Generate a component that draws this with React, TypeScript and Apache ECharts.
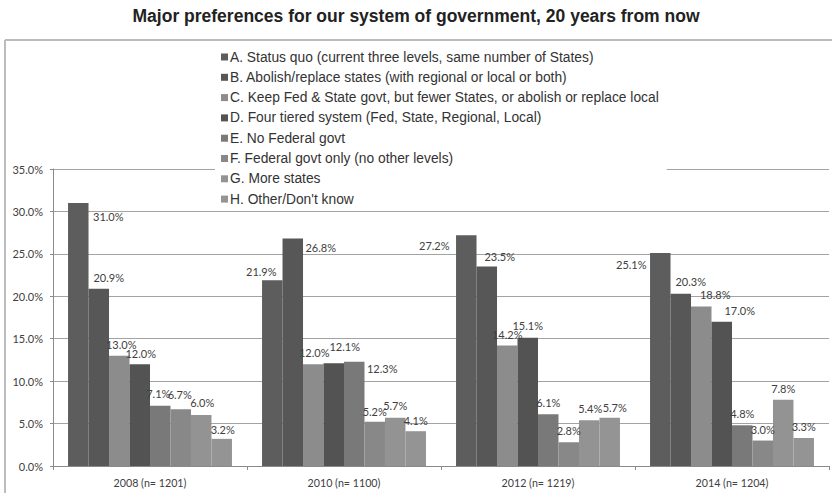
import React, { useEffect, useRef } from "react";
import * as echarts from "echarts";

const title = "Major preferences for our system of government, 20 years from now";
const categories = ["2008 (n= 1201)", "2010 (n= 1100)", "2012 (n= 1219)", "2014 (n= 1204)"];
const seriesNames = [
  "A. Status quo (current three levels, same number of States)",
  "B. Abolish/replace states (with regional or local or both)",
  "C. Keep Fed & State govt, but fewer States, or abolish or replace local",
  "D. Four tiered system (Fed, State, Regional, Local)",
  "E. No Federal govt",
  "F. Federal govt only (no other levels)",
  "G. More states",
  "H. Other/Don't know",
];
const valuesA = [31.0, 21.9, 27.2, 25.1];
const valuesB = [20.9, 26.8, 23.5, 20.3];
const valuesC = [13.0, 12.0, 14.2, 18.8];
const valuesD = [12.0, 12.1, 15.1, 17.0];
const valuesE = [7.1, 12.3, 6.1, 4.8];
const valuesF = [6.7, 5.2, 2.8, 3.0];
const valuesG = [6.0, 5.7, 5.4, 7.8];
const valuesH = [3.2, 4.1, 5.7, 3.3];
const allValues = [valuesA, valuesB, valuesC, valuesD, valuesE, valuesF, valuesG, valuesH];
const yTicks = [0, 5, 10, 15, 20, 25, 30, 35];

// label nudges (style only), per series per category
const labelNudges: number[][][] = [
  [[30, 25], [-11, 3], [-32, 22], [-29, 23]],
  [[10, 0], [28, 20], [13, 1], [10, -1]],
  [[2, 0], [1, 0], [0, 0], [14, 0]],
  [[1, 1], [11, -5], [0, -1], [18, 0]],
  [[-2, -1], [28, 18], [0, 0], [0, 0]],
  [[-1, -3], [0, 1], [0, 0], [0, 0]],
  [[1, -1], [0, -1], [1, 0], [0, 0]],
  [[1, 2], [0, 1], [5, 1], [0, 0]],
];
const colors = ["#5d5d5d", "#575757", "#8c8c8c", "#535353", "#797979", "#888888", "#939393", "#949494"];

export default function App() {
  const ref = useRef<HTMLDivElement>(null);
  useEffect(() => {
    if (!ref.current) return;
    const chart = echarts.init(ref.current, undefined, { renderer: "svg" });
    chart.setOption({
      animation: false,
      backgroundColor: "#ffffff",
      color: colors,
      title: {
        text: title,
        left: "center",
        top: 2,
        textStyle: { fontFamily: "Liberation Sans", fontSize: 17.5, fontWeight: "bold", color: "#222" },
      },
      graphic: [
        { type: "line", shape: { x1: 5, y1: 40, x2: 832, y2: 40 }, style: { stroke: "#bcbcbc", lineWidth: 2 } },
        { type: "line", shape: { x1: 5, y1: 40, x2: 5, y2: 493 }, style: { stroke: "#bcbcbc", lineWidth: 2 } },
      ],
      legend: {
        orient: "vertical",
        left: 215,
        top: 45,
        padding: [5, 8, 4, 6],
        backgroundColor: "#ffffff",
        itemWidth: 7,
        itemHeight: 7,
        itemGap: 6.3,
        icon: "rect",
        data: seriesNames,
        textStyle: {
          fontFamily: "Liberation Sans",
          fontSize: 13.8,
          lineHeight: 14,
          color: "#333",
          padding: [0, 0, 0, -3],
        },
        z: 10,
      },
      grid: { left: 53, right: 3, top: 169, bottom: 27 },
      xAxis: {
        type: "category",
        data: categories,
        axisLine: { lineStyle: { color: "#8a8a8a" } },
        axisTick: { show: true, length: 4, lineStyle: { color: "#8a8a8a" } },
        axisLabel: { fontFamily: "Lato", fontSize: 10.7, color: "#404040", margin: 11 },
      },
      yAxis: {
        type: "value",
        min: 0,
        max: 35,
        interval: 5,
        axisLine: { show: true, lineStyle: { color: "#8a8a8a" } },
        axisTick: { show: true, length: 3, lineStyle: { color: "#8a8a8a" } },
        splitLine: { lineStyle: { color: "#a3a3a3", width: 1.2 } },
        axisLabel: {
          fontFamily: "Lato",
          fontSize: 11,
          color: "#404040",
          margin: 10,
          formatter: (v: number) => (yTicks.includes(v) ? v.toFixed(1) + "%" : ""),
        },
      },
      series: seriesNames.map((name, si) => ({
        name,
        type: "bar",
        barGap: "0%",
        barCategoryGap: "15.5%",
        data: allValues[si].map((v, ci) => ({
          value: v,
          label: { offset: labelNudges[si][ci] },
        })),
        label: {
          show: true,
          position: "top",
          distance: 6,
          fontFamily: "Lato",
          fontSize: 11,
          color: "#404040",
          formatter: (p: any) => Number(p.value).toFixed(1) + "%",
        },
      })),
    });
    return () => chart.dispose();
  }, []);
  return <div ref={ref} style={{ width: 832, height: 493, position: "absolute", left: 0, top: 0 }} />;
}
